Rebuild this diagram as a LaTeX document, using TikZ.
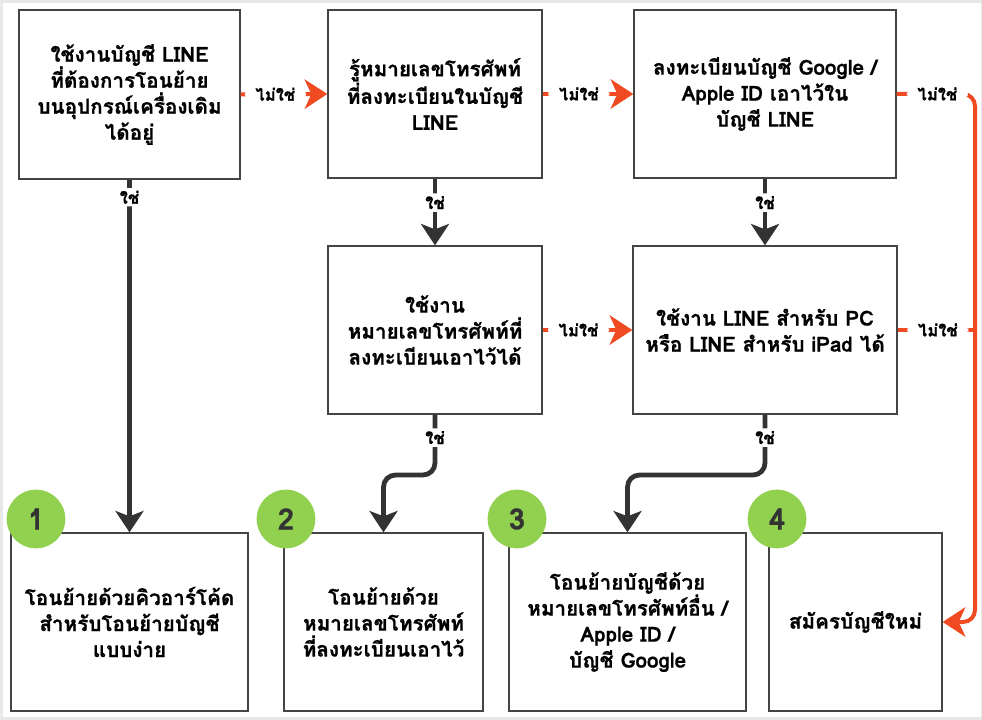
\documentclass[tikz,border=0pt]{standalone}
\usepackage{fontspec}
\newfontfamily\thaifont[Script=Thai, BoldFeatures={FakeBold=0.8}]{Loma}
\usetikzlibrary{arrows.meta}
\definecolor{rd}{HTML}{F04A23}
\definecolor{dk}{HTML}{333333}
\definecolor{bd}{HTML}{444444}
\definecolor{gn}{HTML}{92D050}
\definecolor{fr}{HTML}{E8E8E8}
\tikzset{
  box/.style 2 args={draw=bd, line width=1pt, fill=white, align=center,
    minimum width=#1*0.75pt, minimum height=#2*0.75pt, inner sep=2pt,
    font=\thaifont\bfseries\fontsize{15.5}{19.5}\selectfont},
  num/.style={circle, fill=gn, minimum size=44pt, inner sep=0pt,
    font=\thaifont\bfseries\fontsize{22}{24}\selectfont, text=dk},
  lbl/.style={fill=white, inner xsep=8pt, inner ysep=2pt, text=black,
    font=\thaifont\bfseries\fontsize{12.5}{14}\selectfont},
  yes/.style={draw=dk, line width=3.6pt, rounded corners=9pt,
    -{Stealth[length=16pt, width=21pt, inset=4pt]}},
  no/.style={draw=rd, line width=3pt, rounded corners=9pt,
    -{Stealth[length=17pt, width=22pt, inset=5pt]}},
  noend/.style={draw=rd, line width=3pt, rounded corners=9pt}
}
\begin{document}
\begin{tikzpicture}[x=0.75pt, y=-0.75pt]
\useasboundingbox (0,0) rectangle (982,720);
\fill[fr] (0,0) rectangle (982,720);
\fill[white] (3,3) rectangle (981,717);

% top row
\node[box={221}{169}] (A) at (129.5,94.5) {ใช้งานบัญชี LINE\\ที่ต้องการโอนย้าย\\บนอุปกรณ์เครื่องเดิม\\ได้อยู่};
\node[box={214}{168}] (B) at (435,94) {รู้หมายเลขโทรศัพท์\\ที่ลงทะเบียนในบัญชี\\LINE};
\node[box={262}{168}] (C) at (765,94) {ลงทะเบียนบัญชี Google /\\Apple ID เอาไว้ใน\\บัญชี LINE};
% middle row
\node[box={214}{168}] (D) at (435,330) {ใช้งาน\\หมายเลขโทรศัพท์ที่\\ลงทะเบียนเอาไว้ได้};
\node[box={264}{168}] (E) at (765,330) {ใช้งาน LINE สำหรับ PC\\หรือ LINE สำหรับ iPad ได้};
% bottom row
\node[box={237}{178}] (F1) at (129.5,622) {โอนย้ายด้วยคิวอาร์โค้ด\\สำหรับโอนย้ายบัญชี\\แบบง่าย};
\node[box={199}{178}] (F2) at (383.5,622) {โอนย้ายด้วย\\หมายเลขโทรศัพท์\\ที่ลงทะเบียนเอาไว้};
\node[box={237}{178}] (F3) at (627.5,622) {โอนย้ายบัญชีด้วย\\หมายเลขโทรศัพท์อื่น /\\Apple ID /\\บัญชี Google};
\node[box={173}{178}] (F4) at (855.5,622) {สมัครบัญชีใหม่};

% number badges
\node[num] (n1) at (36,519) {1};
\node[num] (n2) at (286,519) {2};
\node[num] (n3) at (517,519) {3};
\node[num] (n4) at (777,519) {4};

% corner coordinates
\coordinate (dbend) at (435,475);
\coordinate (ebend) at (765,475);
\coordinate (rc1) at (975,94);

% yes connectors
\draw[yes] (A.south) -- node[lbl, pos=0.05]{ใช่} (F1.north);
\draw[yes] (B.south) -- node[lbl, pos=0.36]{ใช่} (D.north);
\draw[yes] (C.south) -- node[lbl, pos=0.36]{ใช่} (E.north);
\draw[yes] (D.south) -- node[lbl, pos=0.38]{ใช่} (dbend) -| (F2.north);
\draw[yes] (E.south) -- node[lbl, pos=0.38]{ใช่} (ebend) -| (F3.north);

% no connectors
\draw[no] (A.east) -- node[lbl, pos=0.4]{ไม่ใช่} (B.west);
\draw[no] (B.east) -- node[lbl, pos=0.4]{ไม่ใช่} (C.west);
\draw[no] (D.east) -- node[lbl, pos=0.4]{ไม่ใช่} (E.west);
\draw[no] (C.east) -- node[lbl, pos=0.52]{ไม่ใช่} (rc1) |- (F4.east);
\draw[noend] (E.east) -- node[lbl, pos=0.52]{ไม่ใช่} (E.east -| rc1);
\end{tikzpicture}
\end{document}
